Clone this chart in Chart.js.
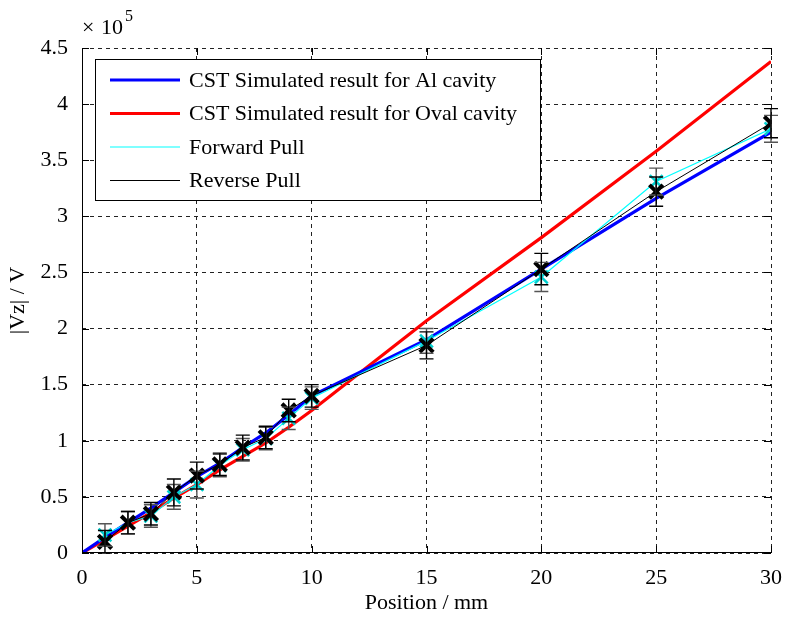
<!DOCTYPE html>
<html>
<head>
<meta charset="utf-8">
<script src="https://cdn.jsdelivr.net/npm/chart.js@4"></script>
<style>
  body { margin: 0; background: #fff; }
  canvas { display: block; }
</style>
</head>
<body>
<canvas id="vzChart" width="785" height="617"></canvas>
<script>
// values in units of 1e5 V (axis shows "x 10^5")
const simPositions = [0, 1, 2, 3, 4, 5, 6, 7, 8, 9, 10, 15, 20, 25, 30];
const alCavity   = [0, 0.14, 0.27, 0.40, 0.54, 0.68, 0.80, 0.94, 1.07, 1.23, 1.40, 1.90, 2.53, 3.16, 3.75];
const ovalCavity = [0, 0.12, 0.24, 0.36, 0.49, 0.61, 0.74, 0.86, 0.98, 1.12, 1.27, 2.07, 2.81, 3.58, 4.38];

const pullPositions = [1, 2, 3, 4, 5, 6, 7, 8, 9, 10, 15, 20, 25, 30];
const forwardPull = [0.16, 0.27, 0.33, 0.50, 0.61, 0.78, 0.92, 1.02, 1.20, 1.38, 1.89, 2.46, 3.31, 3.78];
const forwardErr  = [0.10, 0.10, 0.10, 0.11, 0.12, 0.10, 0.10, 0.10, 0.10, 0.10, 0.11, 0.13, 0.12, 0.12];
const reversePull = [0.10, 0.27, 0.35, 0.54, 0.69, 0.79, 0.94, 1.03, 1.27, 1.40, 1.85, 2.53, 3.22, 3.83];
const reverseErr  = [0.10, 0.10, 0.10, 0.12, 0.12, 0.10, 0.11, 0.10, 0.10, 0.10, 0.12, 0.14, 0.13, 0.13];

const xTicks = [0, 5, 10, 15, 20, 25, 30];
const yTicks = [0, 0.5, 1, 1.5, 2, 2.5, 3, 3.5, 4, 4.5];

const FONT = '"Liberation Serif", "Times New Roman", serif';
const FS = 22;

function toPoints(xs, ys) {
    return xs.map((x, i) => ({ x: x, y: ys[i] }));
}

const datasets = [
    {
        label: 'CST Simulated result for Al cavity',
        data: toPoints(simPositions, alCavity),
        borderColor: '#0000ff', borderWidth: 3.2,
        pointRadius: 0, order: 2
    },
    {
        label: 'CST Simulated result for Oval cavity',
        data: toPoints(simPositions, ovalCavity),
        borderColor: '#ff0000', borderWidth: 3.2,
        pointRadius: 0, order: 3
    },
    {
        label: 'Forward Pull',
        data: toPoints(pullPositions, forwardPull),
        errors: forwardErr, errColor: '#555',
        borderColor: '#00ffff', borderWidth: 1.2,
        pointStyle: 'crossRot', pointRadius: 9,
        pointBorderColor: '#00d0d0', pointBorderWidth: 2.5, order: 1
    },
    {
        label: 'Reverse Pull',
        data: toPoints(pullPositions, reversePull),
        errors: reverseErr, errColor: '#000',
        borderColor: '#000', borderWidth: 1,
        pointStyle: 'crossRot', pointRadius: 9.5,
        pointBorderColor: '#000', pointBorderWidth: 4, order: 0
    }
];

// error bars, inward ticks, axis lines, legend box, exponent label
const matlabLook = {
    id: 'matlabLook',
    afterDatasetsDraw(chart) {
        const ctx = chart.ctx;
        const xs = chart.scales.x, ys = chart.scales.y;
        ctx.save();
        chart.data.datasets.forEach(ds => {
            if (!ds.errors) return;
            ctx.strokeStyle = ds.errColor;
            ctx.lineWidth = 1.4;
            ds.data.forEach((p, i) => {
                const px = xs.getPixelForValue(p.x);
                const top = ys.getPixelForValue(p.y + ds.errors[i]);
                const bot = ys.getPixelForValue(p.y - ds.errors[i]);
                ctx.beginPath();
                ctx.moveTo(px, top); ctx.lineTo(px, bot);
                ctx.moveTo(px - 7, top); ctx.lineTo(px + 7, top);
                ctx.moveTo(px - 7, bot); ctx.lineTo(px + 7, bot);
                ctx.stroke();
            });
        });
        ctx.restore();
    },
    afterDraw(chart) {
        const ctx = chart.ctx;
        const a = chart.chartArea;
        const xs = chart.scales.x, ys = chart.scales.y;
        ctx.save();
        ctx.strokeStyle = '#000';
        ctx.lineWidth = 1;
        ctx.setLineDash([]);
        // solid left and bottom axis
        ctx.beginPath();
        ctx.moveTo(a.left + 0.5, a.top); ctx.lineTo(a.left + 0.5, a.bottom);
        ctx.moveTo(a.left, a.bottom - 0.5); ctx.lineTo(a.right, a.bottom - 0.5);
        // inward ticks on all sides
        xTicks.forEach(v => {
            const px = Math.round(xs.getPixelForValue(v)) + 0.5;
            ctx.moveTo(px, a.bottom); ctx.lineTo(px, a.bottom - 7);
            ctx.moveTo(px, a.top); ctx.lineTo(px, a.top + 7);
        });
        yTicks.forEach(v => {
            const py = Math.round(ys.getPixelForValue(v)) + 0.5;
            ctx.moveTo(a.left, py); ctx.lineTo(a.left + 7, py);
            ctx.moveTo(a.right, py); ctx.lineTo(a.right - 7, py);
        });
        ctx.stroke();

        // exponent label
        ctx.fillStyle = '#000';
        ctx.textBaseline = 'alphabetic';
        ctx.textAlign = 'left';
        ctx.font = FS + 'px ' + FONT;
        ctx.fillText('\u00d7', 82, 34);
        ctx.fillText('10', 101, 34);
        ctx.font = '16px ' + FONT;
        ctx.fillText('5', 125, 21);

        // legend
        const lx = 95, ly = 59, lw = 445, lh = 141;
        ctx.fillStyle = '#fff';
        ctx.fillRect(lx, ly, lw, lh);
        ctx.strokeStyle = '#000';
        ctx.lineWidth = 1;
        ctx.strokeRect(lx + 0.5, ly + 0.5, lw, lh);
        ctx.font = FS + 'px ' + FONT;
        ctx.textBaseline = 'middle';
        chart.data.datasets.forEach((ds, i) => {
            const ry = 80 + i * 33.5;
            ctx.strokeStyle = ds.borderColor;
            ctx.lineWidth = ds.borderWidth;
            ctx.beginPath();
            ctx.moveTo(110, ry); ctx.lineTo(180, ry);
            ctx.stroke();
            ctx.fillStyle = '#000';
            ctx.fillText(ds.label, 189, ry + 1);
        });
        ctx.restore();
    }
};

new Chart(document.getElementById('vzChart'), {
    type: 'line',
    data: { datasets: datasets },
    options: {
        responsive: false,
        animation: false,
        devicePixelRatio: 1,
        layout: { padding: { left: 0, right: 14, top: 48, bottom: 0 } },
        plugins: { legend: { display: false }, tooltip: { enabled: false } },
        elements: { line: { tension: 0, fill: false } },
        scales: {
            x: {
                type: 'linear', min: 0, max: 30,
                afterFit: s => { s.height = 64; s.paddingLeft = 0; s.paddingRight = 0; },
                afterBuildTicks: s => { s.ticks = xTicks.map(v => ({ value: v })); },
                ticks: { color: '#000', padding: 12, font: { family: FONT, size: FS }, maxRotation: 0, callback: v => String(v) },
                grid: { color: '#222', lineWidth: 1, drawTicks: false },
                border: { display: false, dash: [4, 4] },
                title: { display: true, text: 'Position / mm', color: '#000', font: { family: FONT, size: FS }, padding: { top: 0, bottom: 1 } }
            },
            y: {
                type: 'linear', min: 0, max: 4.5,
                afterFit: s => { s.width = 82; s.paddingTop = 0; s.paddingBottom = 0; },
                afterBuildTicks: s => { s.ticks = yTicks.map(v => ({ value: v })); },
                ticks: { color: '#000', padding: 14, font: { family: FONT, size: FS }, callback: v => String(v) },
                grid: { color: '#222', lineWidth: 1, drawTicks: false },
                border: { display: false, dash: [4, 4] },
                title: { display: true, text: '|Vz| / V', color: '#000', font: { family: FONT, size: FS }, padding: { top: 5, bottom: 0 } }
            }
        }
    },
    plugins: [matlabLook]
});
</script>
</body>
</html>
